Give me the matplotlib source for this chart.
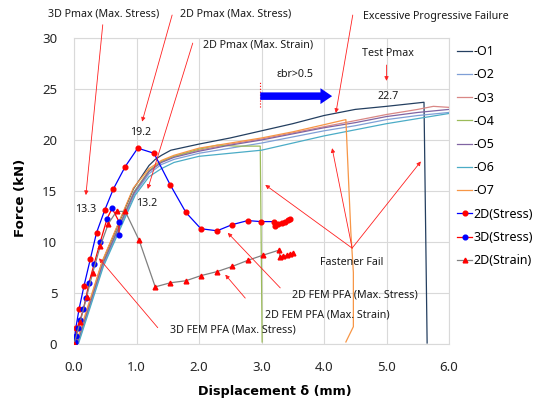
import matplotlib
matplotlib.use("Agg")
import matplotlib.pyplot as plt

plt.rcParams['font.family'] = ['Noto Sans', 'DejaVu Sans']

# ---- Test curves (displacement mm, force kN) ----
o1_x = [0.05, 0.45, 0.95, 1.2, 1.3, 1.4, 1.55, 2.0, 2.5, 3.0, 3.5, 4.0, 4.5, 5.0, 5.3, 5.6, 5.65]
o1_y = [0.0, 8.0, 15.2, 17.5, 18.1, 18.5, 19.0, 19.6, 20.2, 20.9, 21.6, 22.4, 23.0, 23.3, 23.5, 23.7, 0.1]

o2_x = [0.06, 0.46, 0.97, 1.2, 1.4, 1.6, 2.0, 2.5, 3.0, 3.5, 4.0, 4.5, 5.0, 5.5, 6.0]
o2_y = [0.0, 7.6, 14.7, 16.7, 17.6, 18.1, 18.7, 19.2, 19.7, 20.3, 20.9, 21.4, 22.0, 22.4, 22.7]

o3_x = [0.05, 0.45, 0.96, 1.2, 1.4, 1.6, 2.0, 2.5, 3.0, 3.5, 4.0, 4.5, 5.0, 5.5, 5.75, 6.0]
o3_y = [0.0, 7.8, 14.9, 17.0, 17.9, 18.4, 19.0, 19.6, 20.1, 20.7, 21.3, 21.9, 22.5, 23.0, 23.3, 23.2]

o4_x = [0.05, 0.45, 0.96, 1.2, 1.4, 1.6, 2.0, 2.3, 2.6, 2.98, 3.01]
o4_y = [0.0, 7.8, 14.9, 17.0, 17.9, 18.4, 19.1, 19.5, 19.4, 19.4, 0.2]

o5_x = [0.05, 0.45, 0.96, 1.2, 1.4, 1.6, 2.0, 2.5, 3.0, 3.5, 4.0, 4.5, 5.0, 5.5, 6.0]
o5_y = [0.0, 7.7, 14.8, 16.9, 17.8, 18.3, 18.9, 19.5, 20.0, 20.6, 21.2, 21.7, 22.3, 22.7, 23.0]

o6_x = [0.07, 0.47, 0.98, 1.2, 1.4, 1.6, 2.0, 2.5, 3.0, 3.5, 4.0, 4.5, 5.0, 5.5, 6.0]
o6_y = [0.0, 7.6, 14.6, 16.4, 17.2, 17.8, 18.4, 18.7, 19.0, 19.7, 20.4, 21.0, 21.6, 22.1, 22.6]

o7_x = [0.03, 0.45, 0.95, 1.2, 1.4, 1.6, 2.0, 2.5, 3.0, 3.5, 4.0, 4.35, 4.43, 4.47, 4.47, 4.35]
o7_y = [0.0, 8.1, 15.3, 17.2, 18.0, 18.5, 19.2, 19.7, 20.2, 20.8, 21.5, 22.0, 10.9, 7.0, 1.7, 0.2]

# ---- FEM progressive failure analyses ----
s2d_x = [0.0, 0.03, 0.08, 0.16, 0.26, 0.36, 0.49, 0.63, 0.82, 1.02, 1.28, 1.54, 1.79, 2.03,
         2.29, 2.53, 2.78, 2.99, 3.2, 3.22, 3.27, 3.32, 3.37, 3.42, 3.46]
s2d_y = [0.0, 1.6, 3.4, 5.7, 8.3, 10.9, 13.1, 15.2, 17.4, 19.2, 18.7, 15.6, 12.9, 11.3,
         11.1, 11.7, 12.1, 12.0, 12.0, 11.6, 11.8, 11.9, 12.0, 12.2, 12.3]

s3d_x = [0.02, 0.03, 0.06, 0.10, 0.15, 0.19, 0.24, 0.32, 0.42, 0.53, 0.61, 0.72, 0.72]
s3d_y = [0.2, 0.8, 1.6, 2.4, 3.4, 4.5, 6.0, 7.8, 10.0, 12.3, 13.3, 12.0, 10.7]

e2d_x = [0.0, 0.1, 0.2, 0.3, 0.42, 0.55, 0.68, 0.82, 1.04, 1.3, 1.54, 1.79, 2.03, 2.29,
         2.53, 2.78, 3.02, 3.28, 3.3, 3.35, 3.4, 3.45, 3.5]
e2d_y = [0.0, 2.2, 4.6, 7.0, 9.6, 11.8, 13.0, 13.0, 10.2, 5.6, 6.0, 6.2, 6.7, 7.1,
         7.6, 8.2, 8.7, 9.2, 8.5, 8.6, 8.7, 8.8, 8.9]

test_labels = ['-O1', '-O2', '-O3', '-O4', '-O5', '-O6', '-O7']
test_colors = ['#243F60', '#7F9FD6', '#D98785', '#9BBB59', '#8064A2', '#4BACC6', '#F79646']
x_ticks = [0, 1, 2, 3, 4, 5, 6]
x_tick_labels = ['0.0', '1.0', '2.0', '3.0', '4.0', '5.0', '6.0']
y_ticks = [0, 5, 10, 15, 20, 25, 30]

fig = plt.figure(figsize=(5.4, 4.05), dpi=100)
ax = fig.add_axes([74 / 540, 1 - 344 / 405, (449 - 74) / 540, (344 - 38) / 405])

tests = [(o1_x, o1_y), (o2_x, o2_y), (o3_x, o3_y), (o4_x, o4_y),
         (o5_x, o5_y), (o6_x, o6_y), (o7_x, o7_y)]
for (xx, yy), lab, col in zip(tests, test_labels, test_colors):
    ax.plot(xx, yy, color=col, lw=0.9, label=lab, zorder=3)

ax.plot(s2d_x, s2d_y, color='#0000FF', lw=0.9, marker='o', ms=3.4,
        mfc='#FF0000', mec='#FF0000', label='2D(Stress)', zorder=4)
ax.plot(s3d_x, s3d_y, color='#FF0000', lw=0.9, marker='o', ms=3.4,
        mfc='#0000FF', mec='#0000FF', label='3D(Stress)', zorder=4)
ax.plot(e2d_x, e2d_y, color='#808080', lw=0.9, marker='^', ms=3.4,
        mfc='#FF0000', mec='#FF0000', label='2D(Strain)', zorder=4)

ax.set_xlim(0, 6)
ax.set_ylim(0, 30)
ax.set_xticks(x_ticks)
ax.set_xticklabels(x_tick_labels)
ax.set_yticks(y_ticks)
ax.tick_params(length=0, labelsize=9.5, colors='#262626')
ax.tick_params(axis='y', pad=12)
ax.tick_params(axis='x', pad=12)
ax.grid(True, color='#D9D9D9', lw=0.8)
ax.set_axisbelow(True)
for s in ax.spines.values():
    s.set_color('#D9D9D9')
    s.set_linewidth(0.8)

ax.set_xlabel('Displacement δ (mm)', fontsize=9.2, fontweight='bold',
              family=['DejaVu Sans'])
ax.set_ylabel('Force (kN)', fontsize=9.5, fontweight='bold',
              family=['DejaVu Sans'])
ax.xaxis.set_label_coords((275 - 74) / (449 - 74), -(392 - 344) / (344 - 38), transform=ax.transAxes)
ax.yaxis.set_label_coords(-(74 - 20) / (449 - 74), (344 - 198) / (344 - 38), transform=ax.transAxes)
ax.xaxis.label.set_va('center')
ax.yaxis.label.set_va('center')

fig.legend(loc='upper left', bbox_to_anchor=(457 / 540, 1 - 45 / 405), frameon=False,
           fontsize=9, handlelength=1.2, handletextpad=0.15, labelspacing=0.82,
           borderpad=0, borderaxespad=0, numpoints=1)

# ---- annotations ----
tc = '#1A1A1A'
fs = 7.7
arr = dict(arrowstyle='-|>', color='#FF2020', lw=0.6, mutation_scale=6, shrinkA=0, shrinkB=0)

def note(text, xy_text, xy_arrow_start=None, xy_arrow_end=None):
    ax.text(xy_text[0], xy_text[1], text, ha='center', va='center', fontsize=fs,
            color=tc, clip_on=False, zorder=6)
    if xy_arrow_start is not None:
        ax.annotate('', xy=xy_arrow_end, xytext=xy_arrow_start, arrowprops=arr,
                    annotation_clip=False, zorder=6)

note('3D Pmax (Max. Stress)', (0.48, 32.35), (0.46, 31.3), (0.19, 14.6))
note('2D Pmax (Max. Stress)', (2.59, 32.35), (1.57, 32.25), (1.09, 21.8))
note('2D Pmax (Max. Strain)', (2.94, 29.3), (1.90, 29.5), (1.18, 15.2))
note('Excessive Progressive Failure', (5.79, 32.1), (4.46, 32.25), (4.19, 22.65))
note('Test Pmax', (5.02, 28.5), (5.0, 27.35), (5.0, 25.8))
note('22.7', (5.02, 24.3))
note('εbr>0.5', (3.54, 26.4))
note('19.2', (1.06, 20.7))
note('13.3', (0.19, 13.2))
note('13.2', (1.17, 13.8))
note('Fastener Fail', (4.45, 8.0))
for tgt in [(3.06, 15.6), (4.13, 19.2), (5.55, 17.9)]:
    ax.annotate('', xy=tgt, xytext=(4.45, 9.4), arrowprops=arr, annotation_clip=False, zorder=6)
note('2D FEM PFA (Max. Stress)', (4.5, 4.8), (3.3, 5.5), (2.46, 10.9))
note('2D FEM PFA (Max. Strain)', (4.05, 2.85), (2.74, 4.5), (2.42, 6.8))
note('3D FEM PFA (Max. Stress)', (2.54, 1.4), (1.34, 1.6), (0.40, 8.4))

# εbr > 0.5 marker: dotted red line and thick blue arrow
ax.plot([2.98, 2.98], [23.2, 25.7], color='#FF0000', lw=0.8, ls=':', zorder=5)
ax.annotate('', xy=(4.13, 24.3), xytext=(2.98, 24.3),
            arrowprops=dict(arrowstyle='simple,head_length=0.7,head_width=0.95,tail_width=0.45',
                            color='#0000FF', lw=0, mutation_scale=12, shrinkA=0, shrinkB=0),
            zorder=5)

fig.savefig('out.png', dpi=100)
